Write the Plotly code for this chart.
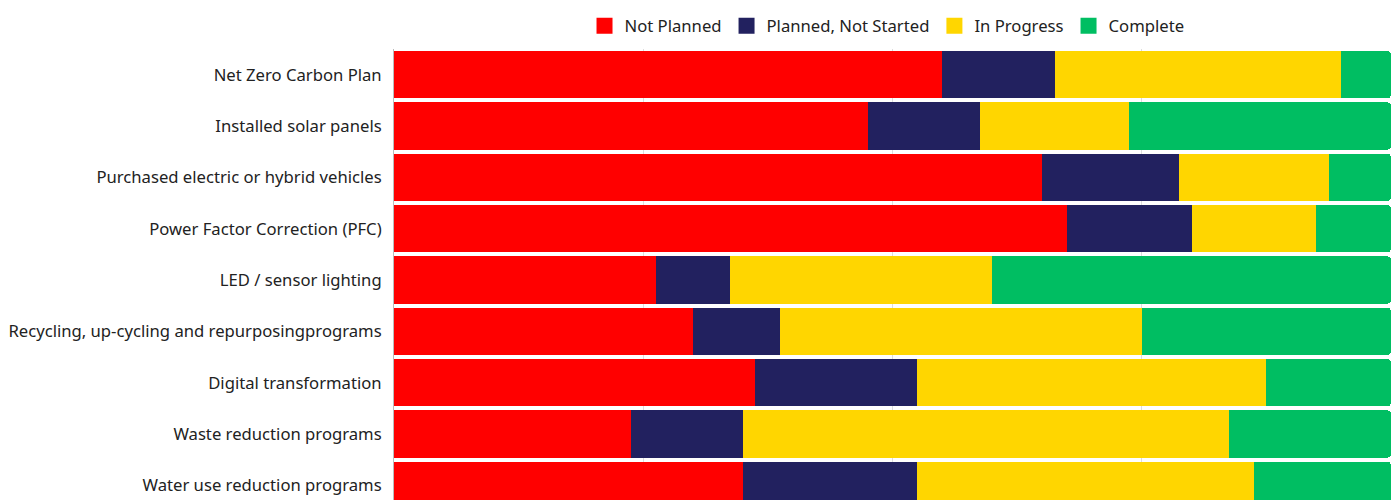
import plotly.graph_objects as go

# Survey responses per initiative (number of respondents in each status)
categories = [
    "Net Zero Carbon Plan",
    "Installed solar panels",
    "Purchased electric or hybrid vehicles",
    "Power Factor Correction (PFC)",
    "LED / sensor lighting",
    "Recycling, up-cycling and repurposingprograms",
    "Digital transformation",
    "Waste reduction programs",
    "Water use reduction programs",
]
not_planned = [44, 38, 52, 54, 21, 24, 29, 19, 28]
planned_not_started = [9, 9, 11, 10, 6, 7, 13, 9, 14]
in_progress = [23, 12, 12, 10, 21, 29, 28, 39, 27]
complete = [4, 21, 5, 6, 32, 20, 10, 13, 11]

series = [
    ("Not Planned", not_planned, "#FF0000"),
    ("Planned, Not Started", planned_not_started, "#22215F"),
    ("In Progress", in_progress, "#FFD600"),
    ("Complete", complete, "#00BE62"),
]

FONT = "Noto Sans"
FSIZE = 16.67

fig = go.Figure()
for name, values, color in series:
    fig.add_trace(go.Bar(
        y=categories, x=values, name=name, orientation="h",
        marker=dict(color=color, line=dict(width=0)),
        showlegend=False,
        hovertemplate="%{y}<br>" + name + ": %{x:.1f}%<extra></extra>",
    ))
    # larger square swatches for the legend
    fig.add_trace(go.Scatter(
        x=[None], y=[None], mode="markers", name=name,
        marker=dict(symbol="square", size=19, color=color),
    ))

fig.update_layout(
    width=1397, height=500,
    barmode="stack", barnorm="percent", bargap=0.08,
    barcornerradius=4,
    paper_bgcolor="white", plot_bgcolor="white",
    margin=dict(l=394, r=6, t=49, b=0),
    font=dict(family=FONT, size=FSIZE, color="#222222"),
    legend=dict(
        orientation="h", traceorder="normal",
        x=0.4945, xanchor="center", y=1.051, yanchor="middle",
        font=dict(family=FONT, size=FSIZE, color="#222222"),
        itemwidth=30, tracegroupgap=0,
    ),
    xaxis=dict(
        range=[0, 100], showticklabels=False, ticks="",
        showgrid=True, gridcolor="#DDDDDD", gridwidth=1,
        tick0=0, dtick=25, zeroline=False,
    ),
    yaxis=dict(
        categoryorder="array", categoryarray=categories,
        range=[8.286, -0.5], showgrid=False,
        showline=True, linecolor="#BBBBBB", linewidth=1,
        ticks="outside", ticklen=8, tickcolor="rgba(0,0,0,0)",
        tickfont=dict(family=FONT, size=FSIZE, color="#222222"),
    ),
)

fig.write_html("out.html")
